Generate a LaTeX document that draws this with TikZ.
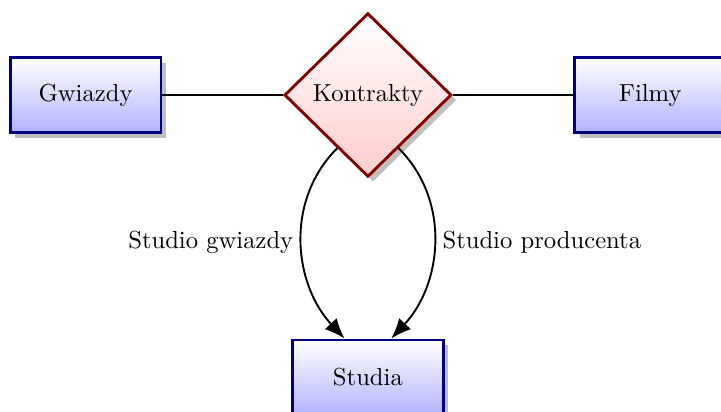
\documentclass[tikz,border=0pt]{standalone}
\usepackage{xcolor}
\usepackage{tikz}
\usetikzlibrary{positioning,shapes.geometric,shadows,arrows.meta}

\begin{document}
\begin{tikzpicture}[
  font=\fontsize{10.4pt}{12.5pt}\selectfont,
  entity/.style={draw=blue!50!black, very thick, minimum width=2.24cm, minimum height=1.11cm,
                 top color=white, bottom color=blue!30, drop shadow},
  relation/.style={draw=red!50!black, very thick, diamond, aspect=1, minimum width=2.48cm,
                   minimum height=2.43cm, inner sep=1pt, top color=white, bottom color=red!20, drop shadow},
  link/.style={thick},
  arr/.style={-{Latex[length=3mm,width=2.4mm]}, thick}
]
  \useasboundingbox (-5.46,1.41) rectangle (5.24,-4.70);

  % Relationship
  \node[relation] (kontrakty) at (0,0) {Kontrakty};

  % Entity sets
  \node[entity] (gwiazdy) at (-4.19,0) {Gwiazdy};
  \node[entity] (filmy) at (4.19,0) {Filmy};
  \node[entity] (studia) at (0,-4.19) {Studia};

  \draw[link] (gwiazdy) -- (kontrakty);
  \draw[link] (kontrakty) -- (filmy);
  \draw[arr] (kontrakty.240) to[out=225, in=133]
    node[left] {Studio gwiazdy} (studia.121);
  \draw[arr] (kontrakty.300) to[out=315, in=47]
    node[right] {Studio producenta} (studia.59);
\end{tikzpicture}
\end{document}
